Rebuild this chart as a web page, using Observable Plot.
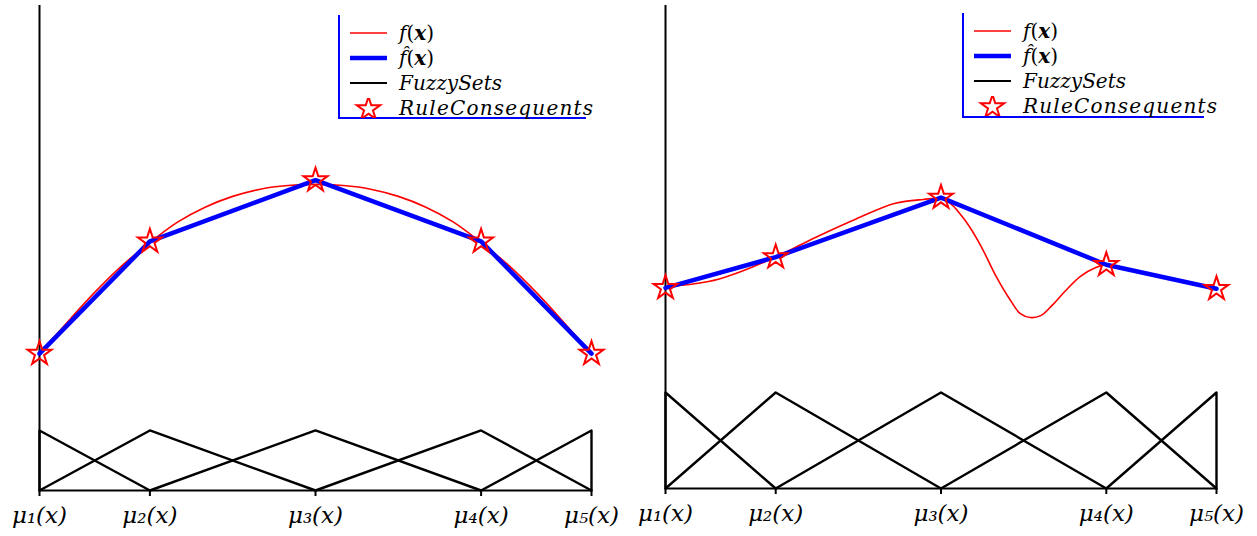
<!DOCTYPE html>
<html><head><meta charset="utf-8">
<script src="https://cdn.jsdelivr.net/npm/d3@7"></script>
<script src="https://cdn.jsdelivr.net/npm/@observablehq/plot@0.6"></script>
<style>
body{margin:0;background:#fff;}
#wrap{position:relative;width:1257px;height:536px;display:flex;overflow:hidden;}
.panel{position:relative;}
.legend{position:absolute;border-left:2px solid #0000ff;border-bottom:2px solid #0000ff;font-family:"DejaVu Serif";font-style:italic;font-size:20px;color:#000;box-sizing:border-box;padding-top:5px;}
.legend .row{display:flex;align-items:center;height:25px;padding-left:10px;}
.legend .row svg{margin-right:12px;flex:none;}
.legend b{font-weight:bold;}
.legend .up{font-style:normal;}
.legend .wide{letter-spacing:1.2px;}
</style></head><body>
<div id="wrap"></div>
<script>
// membership-function centres (normalised input) and their tick labels
const centers = [0, 0.2, 0.5, 0.8, 1];
const tickLabels = ["μ₁(x)", "μ₂(x)", "μ₃(x)", "μ₄(x)", "μ₅(x)"];

// left panel: rule consequents and the sampled true function f(x)
const leftRule = [2.28, 4.15, 5.17, 4.15, 2.28];
const leftFx = [0, 0.05, 0.1, 0.15, 0.2, 0.25, 0.3, 0.35, 0.4, 0.45, 0.5, 0.55, 0.6, 0.65, 0.7, 0.75, 0.8, 0.85, 0.9, 0.95, 1];
const leftFy = [2.28, 2.80, 3.30, 3.75, 4.13, 4.47, 4.72, 4.90, 5.02, 5.08, 5.10, 5.08, 5.02, 4.90, 4.72, 4.47, 4.13, 3.75, 3.30, 2.80, 2.28];
const leftYMax = 8.08;

// right panel
const rightRule = [2.09, 2.41, 3.03, 2.33, 2.08];
const rightFx = [0, 0.096, 0.196, 0.274, 0.347, 0.417, 0.468, 0.5, 0.517, 0.544, 0.572, 0.599, 0.626, 0.644, 0.662, 0.681, 0.702, 0.726, 0.753, 0.78, 0.8, 0.882, 1];
const rightFy = [2.10, 2.18, 2.40, 2.62, 2.81, 2.97, 3.01, 3.02, 2.97, 2.79, 2.53, 2.22, 1.96, 1.82, 1.78, 1.80, 1.91, 2.06, 2.21, 2.30, 2.33, 2.23, 2.08];
const rightYMax = 5.03;

function fuzzySets() {
  const out = [];
  centers.forEach((c, i) => {
    out.push({x: i > 0 ? centers[i - 1] : c, y: 0, set: i});
    out.push({x: c, y: 1, set: i});
    out.push({x: i < centers.length - 1 ? centers[i + 1] : c, y: 0, set: i});
  });
  return out;
}

function panel({rule, fx, fy, yMax, width, marginLeft, marginRight, marginBottom}) {
  const ruleData = centers.map((c, i) => ({x: c, y: rule[i]}));
  const fData = fx.map((x, i) => ({x, y: fy[i]}));
  return Plot.plot({
    width, height: 536,
    marginLeft, marginRight, marginTop: 5, marginBottom,
    x: {domain: [0, 1], axis: null},
    y: {domain: [0, yMax], axis: null},
    style: {fontFamily: "DejaVu Serif", fontStyle: "italic", fontSize: "23px", background: "#fff", overflow: "visible"},
    marks: [
      Plot.ruleX([0], {stroke: "#000", strokeWidth: 2}),
      Plot.ruleY([0], {stroke: "#000", strokeWidth: 2}),
      Plot.axisX({ticks: centers, label: null, tickSize: 6, tickPadding: 10, strokeWidth: 2, tickFormat: d => tickLabels[centers.indexOf(d)], fill: "#000", stroke: "#000"}),
      Plot.line(fuzzySets(), {x: "x", y: "y", z: "set", stroke: "#000", strokeWidth: 2.4}),
      Plot.line(fData, {x: "x", y: "y", stroke: "#ff0000", strokeWidth: 1.6, curve: "catmull-rom"}),
      Plot.line(ruleData, {x: "x", y: "y", stroke: "#0000ff", strokeWidth: 4.5}),
      Plot.dot(ruleData, {x: "x", y: "y", symbol: "star", r: 7.5, stroke: "#ff0000", fill: "none", strokeWidth: 2})
    ]
  });
}

function legend(left, top, w, h) {
  const star = d3.symbol(d3.symbolStar, 170)();
  const div = document.createElement("div");
  div.className = "legend";
  Object.assign(div.style, {left: left + "px", top: top + "px", width: w + "px", height: h + "px"});
  const sw = (inner) => `<svg width="37" height="20" viewBox="0 0 37 20">${inner}</svg>`;
  div.innerHTML = `
    <div class="row">${sw('<line x1="0" x2="37" y1="10" y2="10" stroke="#ff0000" stroke-width="1.6"/>')}<span>f<span class="up">(</span><b>x</b><span class="up">)</span></span></div>
    <div class="row">${sw('<line x1="0" x2="37" y1="10" y2="10" stroke="#0000ff" stroke-width="4.5"/>')}<span>f̂<span class="up">(</span><b>x</b><span class="up">)</span></span></div>
    <div class="row">${sw('<line x1="0" x2="37" y1="10" y2="10" stroke="#000" stroke-width="2"/>')}<span>FuzzySets</span></div>
    <div class="row">${sw(`<path transform="translate(18.5,11)" d="${star}" fill="none" stroke="#ff0000" stroke-width="2"/>`)}<span class="wide">RuleConsequents</span></div>`;
  return div;
}

const wrap = document.getElementById("wrap");
const p1 = document.createElement("div"); p1.className = "panel";
p1.appendChild(panel({rule: leftRule, fx: leftFx, fy: leftFy, yMax: leftYMax, width: 628, marginLeft: 39, marginRight: 37, marginBottom: 46}));
p1.appendChild(legend(338, 15, 248, 104));
const p2 = document.createElement("div"); p2.className = "panel";
p2.appendChild(panel({rule: rightRule, fx: rightFx, fy: rightFy, yMax: rightYMax, width: 629, marginLeft: 37, marginRight: 41, marginBottom: 48}));
p2.appendChild(legend(962 - 628, 13, 242, 105));
wrap.appendChild(p1); wrap.appendChild(p2);
</script>
</body></html>
